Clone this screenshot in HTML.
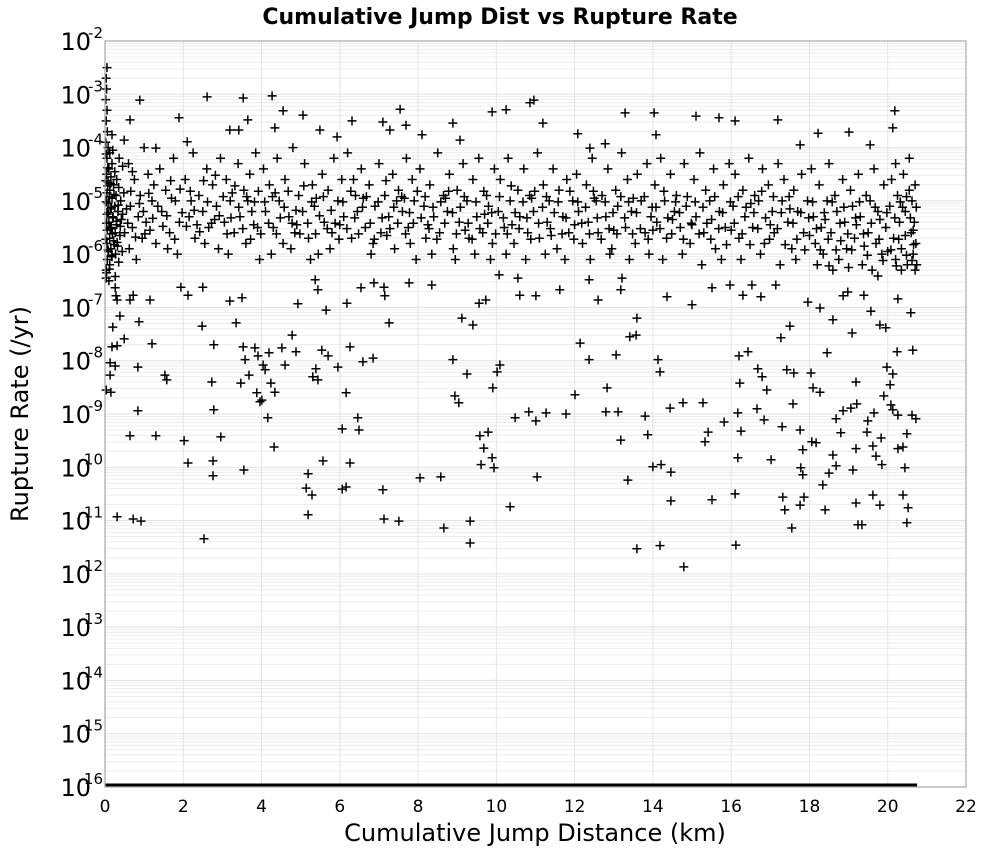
<!DOCTYPE html>
<html><head><meta charset="utf-8">
<style>
html,body{margin:0;padding:0;background:#fff;}
svg{display:block;font-family:"Liberation Sans","DejaVu Sans",sans-serif;}
</style></head>
<body>
<svg id="chart" width="1000" height="850" viewBox="0 0 1000 850" xmlns="http://www.w3.org/2000/svg">
<rect x="0" y="0" width="1000" height="850" fill="#fff"/>
<text x="500" y="24" text-anchor="middle" font-size="22" font-weight="bold" font-family="DejaVu Sans, Liberation Sans, sans-serif">Cumulative Jump Dist vs Rupture Rate</text>
<g id="grid"></g>
<g id="yticks"></g>
<g id="xticks"></g>
<g id="marks"></g>
<rect x="105" y="41" width="861" height="746" fill="none" stroke="#a8a8a8" stroke-width="1.2"/>
<text x="535" y="841" text-anchor="middle" font-size="24" font-family="DejaVu Sans, Liberation Sans, sans-serif">Cumulative Jump Distance (km)</text>
<text transform="translate(28,414) rotate(-90)" text-anchor="middle" font-size="24" font-family="DejaVu Sans, Liberation Sans, sans-serif">Rupture Rate (/yr)</text>
</svg>
<script>
// ---- data ----
const xTicks = [0,2,4,6,8,10,12,14,16,18,20,22];
const yTickExps = [-2,-3,-4,-5,-6,-7,-8,-9,-10,-11,-12,-13,-14,-15,-16];
// ruptures with zero rate plotted at the floor (1e-16), spanning this distance range
const floorRangeKm = [0, 20.75];
// [cumulative jump distance km, log10 rupture rate]
const sparsePoints = [
[0.31,-10.93],[0.72,-10.97],[0.92,-11.01],[0.64,-9.41],[0.84,-8.94],[1.30,-9.41],[2.02,-9.50],[2.12,-9.92],[2.53,-11.34],[2.76,-9.88],[2.76,-10.16],[2.96,-9.43],[2.78,-8.92],[2.73,-8.40],[2.78,-7.70],[2.48,-7.35],[3.47,-8.42],[3.55,-10.05],[3.88,-8.60],[3.96,-8.77],[4.16,-9.07],[4.32,-9.62],[4.60,-8.08],[4.52,-7.76],[4.88,-7.83],[5.14,-10.39],[5.19,-10.12],[5.19,-10.89],[5.29,-10.52],[5.57,-9.88],[6.06,-10.41],[6.16,-10.37],[6.26,-9.92],[6.46,-9.07],[6.06,-9.28],[5.70,-7.91],[5.54,-7.80],[5.39,-8.15],[5.44,-8.36],[5.31,-8.30],[5.95,-8.12],[6.26,-7.74],[6.59,-8.02],[6.85,-7.95],[7.13,-10.97],[7.10,-10.42],[7.51,-11.01],[8.05,-10.20],[8.58,-10.18],[8.66,-11.14],[9.33,-11.42],[9.33,-11.01],[8.94,-8.66],[9.25,-8.25],[9.04,-8.79],[10.09,-8.08],[10.02,-8.21],[9.91,-8.51],[9.79,-9.34],[9.68,-9.64],[9.58,-9.41],[9.61,-9.95],[9.94,-10.01],[9.89,-9.82],[10.35,-10.74],[11.04,-10.18],[10.48,-9.07],[10.83,-8.96],[11.27,-8.98],[11.01,-9.13],[11.78,-9.00],[12.01,-8.64],[12.14,-7.67],[12.37,-7.98],[12.83,-8.51],[12.80,-8.96],[13.11,-8.96],[13.18,-9.49],[13.36,-10.24],[13.59,-11.53],[13.80,-9.04],[13.87,-9.39],[14.00,-9.99],[14.21,-9.95],[14.46,-10.09],[14.46,-10.63],[14.18,-11.47],[14.79,-11.87],[14.13,-7.98],[14.18,-8.21],[14.44,-8.89],[14.77,-8.79],[15.28,-8.79],[15.33,-9.52],[15.41,-9.34],[15.51,-10.61],[15.82,-9.15],[16.25,-9.32],[16.17,-9.82],[16.10,-10.50],[16.12,-11.46],[16.17,-8.98],[16.22,-8.42],[16.20,-7.91],[16.43,-7.83],[16.66,-8.90],[16.68,-8.15],[16.79,-8.30],[16.91,-8.55],[16.84,-9.11],[17.02,-9.86],[17.30,-9.24],[17.32,-10.56],[17.37,-10.80],[17.55,-11.14],[17.58,-8.81],[17.60,-8.23],[18.27,-8.59],[18.68,-9.09],[18.06,-9.52],[17.83,-9.67],[17.78,-10.01],[17.83,-10.14],[17.76,-9.30],[17.86,-10.56],[17.76,-10.71],[18.34,-10.33],[18.50,-10.11],[18.68,-9.97],[18.60,-9.77],[18.80,-9.35],[18.86,-8.94],[19.06,-8.89],[19.19,-8.40],[19.21,-8.81],[19.19,-9.65],[19.11,-10.05],[19.24,-11.08],[19.34,-11.08],[19.49,-9.13],[19.47,-9.34],[19.62,-9.60],[19.70,-9.79],[19.83,-9.45],[19.85,-9.95],[19.98,-8.12],[20.06,-8.45],[19.90,-8.66],[20.08,-8.83],[20.13,-8.25],[20.13,-8.92],[20.24,-7.83],[20.26,-9.02],[20.26,-9.65],[20.39,-9.62],[20.44,-10.01],[20.49,-9.37],[20.39,-10.52],[20.52,-10.76],[20.62,-9.02],[20.72,-9.09],[20.49,-11.04],[20.64,-7.80],[19.95,-7.38],[19.80,-7.33],[19.57,-7.07],[19.09,-7.48],[18.60,-7.23],[18.45,-7.85],[18.27,-7.01],[17.96,-6.90],[19.39,-6.77],[18.98,-6.71],[18.86,-6.78],[18.50,-6.22],[19.75,-6.41],[20.59,-7.10],[20.26,-6.84],[19.80,-10.71],[19.62,-10.52],[19.19,-10.67],[18.40,-10.80],[18.09,-8.51],[18.17,-9.54],[18.04,-8.23],[19.65,-8.98],
[0.13,-8.27],[0.03,-8.55],[0.15,-8.59],[0.26,-8.10],[0.31,-7.72],[0.20,-7.37],[0.49,-7.59],[0.38,-7.16],[0.31,-6.86],[0.84,-8.12],[0.87,-7.27],[1.20,-7.68],[1.53,-8.27],[1.58,-8.36],[0.13,-8.04],[0.18,-7.74],[0.72,-6.77],[0.26,-6.63],[0.03,-6.30],[0.03,-6.45],[0.28,-6.78],[0.64,-6.86],[1.15,-6.86],[1.94,-6.62],[2.12,-6.77],[2.50,-6.62],[3.19,-6.88],[3.50,-6.82],[3.35,-7.29],[3.53,-7.74],[3.58,-7.98],[3.68,-8.27],[3.83,-7.76],[3.91,-7.91],[4.04,-8.08],[4.19,-7.85],[4.24,-8.42],[4.34,-8.59],[4.01,-8.74],[4.09,-8.17],[4.78,-7.52],[4.93,-6.93],[5.37,-6.48],[5.44,-6.67],[5.65,-7.05],[6.18,-6.92],[6.54,-6.63],[6.87,-6.54],[7.13,-6.62],[7.15,-6.78],[6.16,-8.60],[6.49,-9.30],[7.26,-7.29],[7.77,-6.54],[8.35,-6.58],[8.89,-7.98],[9.40,-7.33],[9.12,-7.20],[9.56,-6.92],[9.73,-6.86],[10.07,-6.39],[10.55,-6.45],[10.60,-6.77],[11.01,-6.78],[11.62,-6.67],[12.37,-6.48],[12.60,-6.86],[13.21,-6.45],[13.18,-6.67],[13.59,-7.20],[13.57,-7.52],[13.41,-7.55],[13.06,-7.89],[14.36,-6.80],[15.00,-6.95],[15.51,-6.63],[15.97,-6.58],[16.30,-6.77],[16.53,-6.58],[16.76,-6.80],[17.14,-6.58],[17.27,-7.57],[17.50,-7.35],[17.42,-8.17],
[0.89,-3.11],[1.89,-3.44],[2.61,-3.05],[3.53,-3.07],[4.27,-3.03],[3.19,-3.67],[3.42,-3.67],[3.65,-3.48],[4.55,-3.31],[5.06,-3.39],[5.93,-3.80],[6.31,-3.50],[7.54,-3.28],[7.69,-3.58],[7.10,-3.52],[8.10,-3.76],[8.89,-3.54],[9.89,-3.33],[10.25,-3.29],[10.86,-3.16],[10.96,-3.11],[11.19,-3.54],[12.08,-3.74],[12.39,-4.01],[13.29,-3.35],[14.03,-3.35],[14.08,-3.76],[15.10,-3.41],[15.69,-3.44],[16.10,-3.50],[17.19,-3.48],[18.22,-3.73],[19.01,-3.71],[19.55,-3.95],[20.18,-3.31],[20.13,-3.63],[17.76,-3.95],[12.78,-3.93],[9.07,-3.86],[7.28,-3.67],[5.49,-3.67],[4.34,-3.63],[2.10,-3.89],[1.30,-4.01],[0.49,-3.86],[0.64,-3.48],[0.18,-3.76]
];
const bandPoints = [
[0.05,-2.5],[0.03,-2.7],[0.04,-2.9],[0.02,-3.1],[0.05,-3.3],[0.03,-3.5],[0.06,-3.7],[0.02,-3.9],[0.08,-4.0],[0.12,-4.1],[0.05,-4.2],[0.18,-4.3],[0.10,-4.4],[0.25,-4.45],[0.04,-4.5],[0.15,-4.55],[0.30,-4.6],[0.08,-4.65],[0.22,-4.7],[0.35,-4.75],[0.12,-4.8],[0.05,-4.85],[0.28,-4.9],[0.18,-4.95],[0.40,-5.0],[0.08,-5.05],[0.25,-5.1],[0.14,-5.15],[0.33,-5.2],[0.05,-5.25],[0.20,-5.3],[0.42,-5.35],[0.10,-5.4],[0.30,-5.45],[0.16,-5.5],[0.06,-5.55],[0.26,-5.6],[0.38,-5.65],[0.12,-5.7],[0.22,-5.75],[0.05,-5.8],[0.32,-5.85],[0.15,-5.9],[0.09,-5.95],[0.27,-6.0],[0.18,-6.05],[0.06,-6.1],[0.35,-6.15],[0.12,-6.2],[0.04,-6.35],[0.20,-4.05],[0.36,-4.2],[0.45,-4.35],[0.48,-4.85],[0.45,-5.25],[0.50,-5.6],[0.44,-5.95],[0.10,-6.5],
[0.60,-4.3],[0.75,-4.6],[0.90,-4.9],[0.65,-5.1],[0.85,-5.3],[0.70,-5.5],[0.95,-5.7],[0.62,-5.9],[0.80,-6.1],[1.00,-4.0],[1.10,-4.5],[1.20,-5.0],[1.05,-5.4],[1.30,-5.8],[1.40,-4.4],[1.45,-5.2],[1.55,-4.8],[1.65,-5.6],[1.75,-4.2],[1.80,-5.0],[1.90,-5.4],[1.85,-6.0],[0.70,-4.45],[0.98,-5.2],[1.25,-4.7],[1.60,-5.9],
[2.05,-4.6],[2.15,-5.3],[2.25,-4.1],[2.30,-5.7],[2.40,-4.9],[2.50,-5.2],[2.60,-4.4],[2.65,-5.5],[2.75,-4.7],[2.85,-5.1],[2.90,-5.9],[2.95,-4.2],[3.05,-5.4],[3.10,-4.6],[3.20,-5.0],[3.30,-5.6],[3.40,-4.3],[3.45,-5.3],[3.55,-4.8],[3.60,-5.8],[3.70,-4.5],[3.75,-5.2],[3.85,-4.1],[3.90,-5.5],[3.95,-6.1],[2.20,-5.0],[2.55,-5.8],[3.15,-6.0],[3.65,-5.0],
[4.05,-4.4],[4.10,-5.2],[4.20,-4.7],[4.30,-5.5],[4.40,-4.2],[4.45,-5.0],[4.55,-5.8],[4.60,-4.6],[4.70,-5.3],[4.80,-4.0],[4.85,-5.6],[4.95,-4.9],[5.05,-5.2],[5.10,-4.3],[5.20,-5.7],[5.30,-4.7],[5.35,-5.1],[5.45,-6.0],[5.55,-4.5],[5.60,-5.4],[5.70,-4.8],[5.80,-5.6],[5.85,-4.2],[5.95,-5.0],[4.25,-6.0],[4.75,-5.9],[5.25,-6.1],[5.75,-5.9],
[6.05,-4.6],[6.10,-5.3],[6.20,-4.1],[6.30,-5.7],[6.40,-4.9],[6.45,-5.2],[6.55,-4.4],[6.65,-5.5],[6.75,-4.7],[6.80,-6.0],[6.90,-5.1],[7.00,-4.3],[7.05,-5.6],[7.15,-4.9],[7.25,-5.3],[7.35,-4.5],[7.40,-5.9],[7.50,-4.8],[7.60,-5.2],[7.70,-4.2],[7.75,-5.5],[7.85,-4.6],[7.90,-5.0],[7.95,-6.1],[6.35,-4.6],[6.85,-5.8],[7.45,-5.0],[7.80,-5.8],
[8.05,-4.4],[8.15,-5.1],[8.20,-5.7],[8.30,-4.7],[8.40,-5.3],[8.50,-4.1],[8.55,-5.6],[8.65,-4.9],[8.75,-5.2],[8.80,-4.5],[8.90,-5.9],[9.00,-4.8],[9.05,-5.4],[9.15,-4.3],[9.25,-5.0],[9.30,-5.7],[9.40,-4.6],[9.50,-5.3],[9.55,-4.2],[9.65,-5.6],[9.75,-4.9],[9.80,-5.1],[9.90,-5.8],[9.95,-4.4],[8.35,-6.0],[8.95,-6.1],[9.45,-6.0],[9.85,-6.1],
[10.05,-5.2],[10.10,-4.6],[10.20,-5.5],[10.30,-4.2],[10.35,-5.0],[10.45,-5.8],[10.55,-4.8],[10.60,-5.3],[10.70,-4.4],[10.80,-5.6],[10.85,-4.9],[10.95,-5.2],[11.05,-4.1],[11.10,-5.7],[11.20,-4.7],[11.30,-5.4],[11.35,-5.0],[11.45,-4.4],[11.55,-5.9],[11.60,-4.8],[11.70,-5.3],[11.80,-4.6],[11.85,-5.6],[11.95,-5.0],[10.25,-6.0],[10.75,-6.1],[11.25,-6.0],[11.75,-6.1],
[12.05,-4.5],[12.10,-5.2],[12.20,-5.8],[12.30,-4.7],[12.35,-5.4],[12.45,-4.2],[12.55,-5.0],[12.60,-5.6],[12.70,-4.9],[12.80,-5.3],[12.85,-4.4],[12.95,-5.9],[13.05,-4.8],[13.10,-5.1],[13.20,-4.1],[13.30,-5.5],[13.35,-4.6],[13.45,-5.2],[13.55,-5.8],[13.60,-4.5],[13.70,-5.0],[13.80,-5.6],[13.85,-4.3],[13.95,-5.3],[12.40,-6.1],[12.90,-6.0],[13.40,-6.1],[13.90,-6.0],
[14.05,-4.7],[14.10,-5.4],[14.20,-4.2],[14.30,-5.0],[14.35,-5.7],[14.45,-4.5],[14.55,-5.2],[14.60,-4.9],[14.70,-5.5],[14.80,-4.3],[14.85,-5.1],[14.95,-5.8],[15.05,-4.6],[15.10,-5.3],[15.20,-4.1],[15.30,-5.6],[15.35,-4.8],[15.45,-5.0],[15.55,-4.4],[15.60,-5.9],[15.70,-5.2],[15.80,-4.7],[15.85,-5.5],[15.95,-4.3],[14.25,-6.1],[14.75,-6.0],[15.25,-6.2],[15.75,-6.1],
[16.05,-5.1],[16.10,-4.5],[16.20,-5.7],[16.30,-4.8],[16.35,-5.3],[16.45,-4.2],[16.55,-5.5],[16.60,-4.9],[16.70,-5.0],[16.80,-4.4],[16.85,-5.8],[16.95,-4.7],[17.05,-5.2],[17.10,-5.6],[17.20,-4.3],[17.30,-5.0],[17.35,-4.6],[17.45,-5.4],[17.55,-5.9],[17.60,-4.8],[17.70,-5.2],[17.80,-4.5],[17.85,-5.6],[17.95,-5.0],[16.25,-6.1],[16.75,-6.0],[17.25,-6.2],[17.65,-6.1],
[18.05,-4.4],[18.10,-5.3],[18.15,-5.8],[18.25,-4.7],[18.30,-5.5],[18.35,-6.0],[18.45,-5.0],[18.50,-4.3],[18.55,-5.6],[18.65,-4.9],[18.70,-5.2],[18.75,-6.1],[18.85,-4.6],[18.90,-5.4],[18.95,-5.9],[19.05,-4.8],[19.10,-5.1],[19.15,-5.7],[19.25,-4.5],[19.30,-5.3],[19.35,-6.2],[19.45,-4.9],[19.50,-5.6],[19.55,-5.0],[19.65,-4.4],[19.70,-5.8],[19.75,-5.2],[19.85,-6.0],[19.90,-4.7],[19.95,-5.5],[18.20,-6.2],[18.60,-6.3],[19.00,-6.25],[19.60,-6.3],
[20.05,-5.1],[20.10,-4.6],[20.15,-5.7],[20.20,-6.1],[20.25,-4.9],[20.30,-5.4],[20.35,-5.9],[20.40,-4.5],[20.45,-5.2],[20.50,-6.2],[20.55,-4.8],[20.60,-5.6],[20.62,-5.0],[20.65,-6.0],[20.68,-5.4],[20.70,-4.7],[20.72,-5.8],[20.74,-6.2],[20.20,-4.3],[20.55,-4.2],[20.35,-6.3],[20.70,-6.3],
[0.55,-5.15],[1.15,-5.55],[1.70,-4.95],[2.35,-5.45],[2.80,-5.35],[3.25,-4.85],[3.80,-5.45],[4.35,-4.85],[4.90,-5.45],[5.40,-4.95],[6.00,-5.45],[6.60,-4.95],[7.20,-5.65],[7.65,-4.95],[8.25,-5.45],[8.70,-4.95],[9.20,-5.55],[9.70,-5.25],[10.40,-5.45],[10.90,-4.95],[11.40,-5.65],[12.00,-5.45],[12.50,-4.95],[13.00,-5.55],[13.50,-4.95],[14.00,-5.55],[14.50,-5.35],[15.00,-5.45],[15.50,-5.35],[16.00,-5.55],[16.50,-5.05],[17.00,-5.45],[17.50,-5.15],[18.00,-5.65],[18.40,-5.35],[18.80,-5.75],[19.20,-5.45],[19.40,-5.85],[19.80,-5.35],[20.00,-5.95],[20.45,-5.65],[20.65,-5.55]
];
const bandPointsDense = [
[0.02,-4.62],[0.07,-4.72],[0.11,-4.92],[0.03,-5.02],[0.16,-5.12],[0.09,-5.22],[0.21,-5.32],[0.04,-5.42],[0.13,-5.52],[0.19,-5.62],[0.02,-5.72],[0.24,-5.82],[0.08,-5.92],[0.17,-6.02],[0.29,-5.38],[0.34,-5.08],[0.23,-4.88],[0.14,-4.68],[0.07,-4.38],[0.03,-4.12],[0.11,-6.28],[0.26,-6.42],[0.39,-5.48],[0.31,-5.78],
[0.58,-5.42],[0.66,-4.82],[0.78,-5.68],[0.88,-5.05],[1.02,-5.62],[1.12,-4.86],[1.22,-5.33],[1.35,-5.1],[1.48,-5.48],[1.58,-5.28],[1.68,-4.62],[1.78,-5.72],[1.92,-4.78],[1.97,-5.22],
[2.08,-5.48],[2.18,-4.82],[2.28,-5.18],[2.42,-5.58],[2.52,-4.62],[2.62,-5.02],[2.72,-5.42],[2.82,-4.52],[2.92,-5.28],[3.02,-4.92],[3.12,-5.62],[3.22,-5.32],[3.32,-4.72],[3.42,-5.12],[3.52,-5.52],[3.62,-4.92],[3.72,-5.72],[3.82,-5.02],[3.92,-4.82],[3.98,-5.62],
[4.08,-5.02],[4.18,-5.42],[4.28,-4.92],[4.38,-5.62],[4.48,-5.32],[4.58,-5.12],[4.68,-4.82],[4.78,-5.42],[4.88,-5.18],[4.98,-5.62],[5.08,-4.72],[5.18,-5.42],[5.28,-5.02],[5.38,-5.62],[5.48,-5.28],[5.58,-4.92],[5.68,-5.52],[5.78,-5.18],[5.88,-5.42],[5.98,-5.72],
[6.08,-5.02],[6.18,-5.52],[6.28,-4.82],[6.38,-5.32],[6.48,-5.62],[6.58,-5.12],[6.68,-4.92],[6.78,-5.42],[6.88,-5.72],[6.98,-5.02],[7.08,-5.32],[7.18,-4.62],[7.28,-5.52],[7.38,-5.12],[7.48,-5.42],[7.58,-4.92],[7.68,-5.62],[7.78,-5.22],[7.88,-5.42],[7.98,-4.82],
[8.08,-5.32],[8.18,-4.92],[8.28,-5.52],[8.38,-5.12],[8.48,-5.72],[8.58,-5.02],[8.68,-5.42],[8.78,-4.82],[8.88,-5.22],[8.98,-5.62],[9.08,-5.12],[9.18,-4.92],[9.28,-5.42],[9.38,-5.72],[9.48,-5.02],[9.58,-5.52],[9.68,-4.82],[9.78,-5.42],[9.88,-5.22],[9.98,-5.62],
[10.08,-4.92],[10.18,-5.32],[10.28,-5.62],[10.38,-4.72],[10.48,-5.22],[10.58,-5.52],[10.68,-5.02],[10.78,-5.32],[10.88,-5.72],[10.98,-4.82],[11.08,-5.42],[11.18,-5.12],[11.28,-4.92],[11.38,-5.52],[11.48,-5.22],[11.58,-5.02],[11.68,-5.62],[11.78,-5.32],[11.88,-4.82],[11.98,-5.72],
[12.08,-5.02],[12.18,-5.42],[12.28,-5.12],[12.38,-5.62],[12.48,-4.82],[12.58,-5.32],[12.68,-5.72],[12.78,-5.02],[12.88,-5.52],[12.98,-5.22],[13.08,-5.62],[13.18,-4.92],[13.28,-5.32],[13.38,-5.02],[13.48,-5.62],[13.58,-5.22],[13.68,-5.52],[13.78,-4.92],[13.88,-5.72],[13.98,-5.12],
[14.08,-5.12],[14.18,-5.52],[14.28,-4.82],[14.38,-5.32],[14.48,-5.62],[14.58,-5.02],[14.68,-5.22],[14.78,-5.72],[14.88,-4.92],[14.98,-5.42],[15.08,-5.02],[15.18,-5.62],[15.28,-5.12],[15.38,-5.42],[15.48,-5.72],[15.58,-4.92],[15.68,-5.52],[15.78,-5.22],[15.88,-5.82],[15.98,-5.02],
[16.08,-5.42],[16.18,-4.92],[16.28,-5.62],[16.38,-5.12],[16.48,-5.82],[16.58,-5.22],[16.68,-5.52],[16.78,-4.82],[16.88,-5.32],[16.98,-5.72],[17.08,-4.92],[17.18,-5.52],[17.28,-5.22],[17.38,-5.82],[17.48,-4.92],[17.58,-5.42],[17.68,-5.72],[17.78,-5.22],[17.88,-5.92],[17.98,-5.32],
[18.08,-5.02],[18.18,-5.52],[18.28,-5.92],[18.38,-5.22],[18.48,-5.72],[18.58,-5.02],[18.68,-5.92],[18.78,-5.42],[18.88,-5.12],[18.98,-5.62],[19.08,-5.92],[19.18,-5.32],[19.28,-5.02],[19.38,-5.62],[19.48,-6.02],[19.58,-5.42],[19.68,-5.12],[19.78,-5.72],[19.88,-6.12],[19.98,-5.22],
[20.08,-5.92],[20.18,-5.32],[20.28,-5.72],[20.38,-5.12],[20.48,-6.02],[20.58,-5.32],[20.66,-5.82],[20.73,-5.12],[20.48,-4.92],[20.22,-6.22],[20.62,-6.12],[20.32,-5.02]
];

// ---- axes ----
const plot = {left:105, right:966, top:41, bottom:787};
const xMin = 0, xMax = 22, yMaxExp = -2, yMinExp = -16;
function xScale(km){ return plot.left + (km - xMin) / (xMax - xMin) * (plot.right - plot.left); }
function yScale(exp){ return plot.top + (yMaxExp - exp) / (yMaxExp - yMinExp) * (plot.bottom - plot.top); }

const NS = "http://www.w3.org/2000/svg";
function mk(tag, attrs, parent){
  const el = document.createElementNS(NS, tag);
  for (const k in attrs) el.setAttribute(k, attrs[k]);
  parent.appendChild(el);
  return el;
}
const grid = document.getElementById('grid');
const yticks = document.getElementById('yticks');
const xticks = document.getElementById('xticks');
const marks = document.getElementById('marks');

for (let e = yMinExp; e < yMaxExp; e++) {
  for (let m = 1; m <= 9; m++) {
    const y = yScale(e + Math.log10(m));
    const ln = mk('line', {x1:plot.left, x2:plot.right, y1:y, y2:y, stroke: m===1 ? '#e0e0e0' : '#ececec', 'stroke-width':1}, grid);
    
    
  }
}
xTicks.forEach(function(t){
  const x = xScale(t);
  const ln = mk('line', {x1:x, x2:x, y1:plot.top, y2:plot.bottom, stroke:'#e4e4e4', 'stroke-width':1}, grid);
  
  
  const tx = mk('text', {x:x, y:812, 'text-anchor':'middle', 'font-size':17, 'font-family':'DejaVu Sans, Liberation Sans, sans-serif'}, xticks);
  tx.textContent = String(t);
  
  
});
yTickExps.forEach(function(e){
  const y = yScale(e);
  const g = mk('g', {}, yticks);
  
  
  const base = mk('text', {x:91, y:y+9, 'text-anchor':'end', 'font-size':24, 'font-family':'DejaVu Sans, Liberation Sans, sans-serif'}, g);
  base.textContent = '10';
  const sup = mk('text', {x:103, y:y-3, 'text-anchor':'end', 'font-size':15, 'font-family':'DejaVu Sans, Liberation Sans, sans-serif'}, g);
  sup.textContent = String(e);
});

const floorBar = mk('line', {x1:xScale(floorRangeKm[0]), x2:xScale(floorRangeKm[1]), y1:yScale(yMinExp)-1.5, y2:yScale(yMinExp)-1.5, stroke:'#000', 'stroke-width':4}, marks);



let d = '';
function addPlus(p){
  const x = xScale(p[0]), y = yScale(p[1]);
  d += 'M' + (x-4.5).toFixed(1) + ' ' + y.toFixed(1) + 'h9M' + x.toFixed(1) + ' ' + (y-4.5).toFixed(1) + 'v9';
}
sparsePoints.forEach(addPlus);
bandPoints.forEach(addPlus);
bandPointsDense.forEach(addPlus);
const pts = mk('path', {d:d, stroke:'#000', 'stroke-width':1.5, fill:'none'}, marks);


</script>
</body></html>
